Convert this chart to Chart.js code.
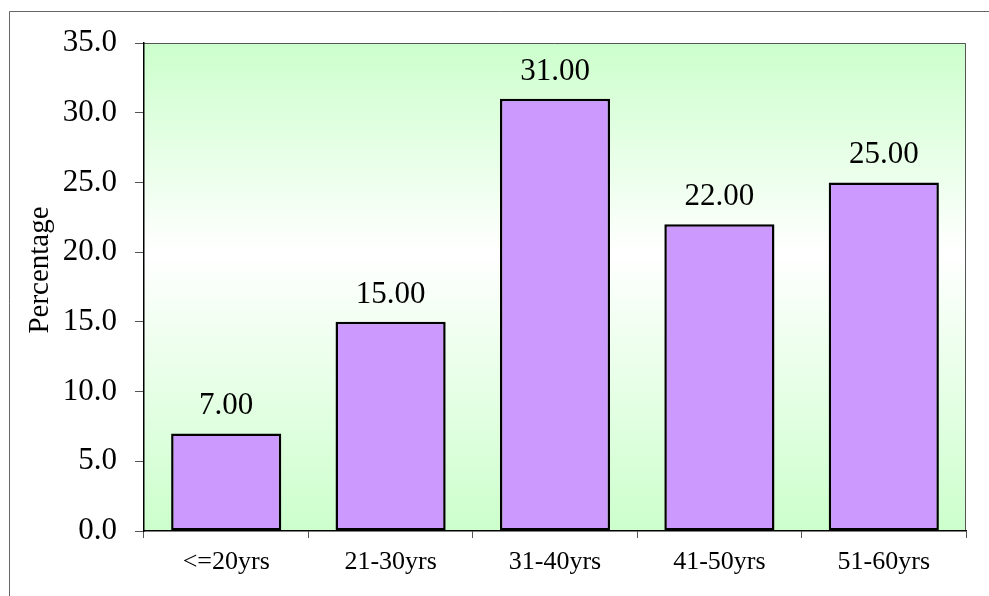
<!DOCTYPE html>
<html>
<head>
<meta charset="utf-8">
<title>Age groups</title>
<script src="https://cdn.jsdelivr.net/npm/chart.js@4"></script>
<style>
  html, body { margin: 0; padding: 0; background: #fff; overflow: hidden; }
  #wrap { position: relative; width: 989px; height: 596px; }
</style>
</head>
<body>
<div id="wrap"><canvas id="myChart" width="989" height="596"></canvas></div>
<script>
const categories = ["<=20yrs", "21-30yrs", "31-40yrs", "41-50yrs", "51-60yrs"];
const percentages = [7, 15, 31, 22, 25];
const yTicks = [0, 5, 10, 15, 20, 25, 30, 35];
const yTitle = "Percentage";

const serif = '"Liberation Serif", "Times New Roman", serif';

// frame, plot background, value labels and the axis title
const decor = {
  id: "decor",
  beforeDraw(chart) {
    const { ctx, chartArea: a } = chart;
    ctx.save();
    ctx.strokeStyle = "#666";
    ctx.lineWidth = 1;
    ctx.beginPath();
    ctx.moveTo(9.5, 596);
    ctx.lineTo(9.5, 11.5);
    ctx.lineTo(989, 11.5);
    ctx.stroke();

    const g = ctx.createLinearGradient(0, a.top, 0, a.bottom);
    g.addColorStop(0, "#ccffcc");
    g.addColorStop(0.43, "#ffffff");
    g.addColorStop(1, "#ccffcc");
    ctx.fillStyle = g;
    ctx.fillRect(a.left, a.top, a.right - a.left, a.bottom - a.top);

    ctx.strokeStyle = "#555";
    ctx.beginPath();
    ctx.moveTo(a.left, a.top + 0.5);
    ctx.lineTo(a.right - 0.5, a.top + 0.5);
    ctx.lineTo(a.right - 0.5, a.bottom);
    ctx.stroke();
    ctx.restore();
  },
  afterDatasetsDraw(chart) {
    const { ctx } = chart;
    const meta = chart.getDatasetMeta(0);
    ctx.save();
    ctx.fillStyle = "#000";
    ctx.font = "31px " + serif;
    ctx.textAlign = "center";
    ctx.textBaseline = "alphabetic";
    meta.data.forEach((bar, i) => {
      ctx.fillText(percentages[i].toFixed(2), bar.x, bar.y - 19);
    });

    ctx.translate(48, 270);
    ctx.rotate(-Math.PI / 2);
    ctx.font = "29px " + serif;
    ctx.fillText(yTitle, 0, 0);
    ctx.restore();
  }
};

const ctx = document.getElementById("myChart").getContext("2d");

new Chart(ctx, {
  type: "bar",
  data: {
    labels: categories,
    datasets: [
      {
        data: percentages,
        backgroundColor: "#cc99ff",
        borderColor: "#000",
        borderWidth: 2.5,
        borderSkipped: false,
        categoryPercentage: 1,
        barPercentage: 0.67,
      },
    ],
  },
  options: {
    responsive: false,
    animation: false,
    layout: { padding: { left: 0, top: 43, right: 23, bottom: 0 } },
    plugins: {
      legend: { display: false },
      tooltip: { enabled: false },
    },
    scales: {
      x: {
        grid: {
          offset: true,
          drawOnChartArea: false,
          drawTicks: true,
          tickLength: 7,
          tickColor: "#555",
        },
        border: { display: true, color: "#000", width: 1.5 },
        ticks: {
          color: "#000",
          font: { family: serif, size: 26 },
          padding: 9,
          maxRotation: 0,
        },
        afterFit(scale) {
          scale.height = 65;
        },
      },
      y: {
        min: 0,
        max: 35,
        afterBuildTicks(scale) {
          scale.ticks = yTicks.map((v) => ({ value: v }));
        },
        grid: {
          drawOnChartArea: false,
          drawTicks: true,
          tickLength: 9,
          tickColor: "#555",
        },
        border: { display: true, color: "#000", width: 1.5 },
        ticks: {
          color: "#000",
          font: { family: serif, size: 31 },
          padding: 18,
          callback: (v) => Number(v).toFixed(1),
        },
        afterFit(scale) {
          scale.width = 144;
        },
      },
    },
  },
  plugins: [decor],
});
</script>
</body>
</html>
